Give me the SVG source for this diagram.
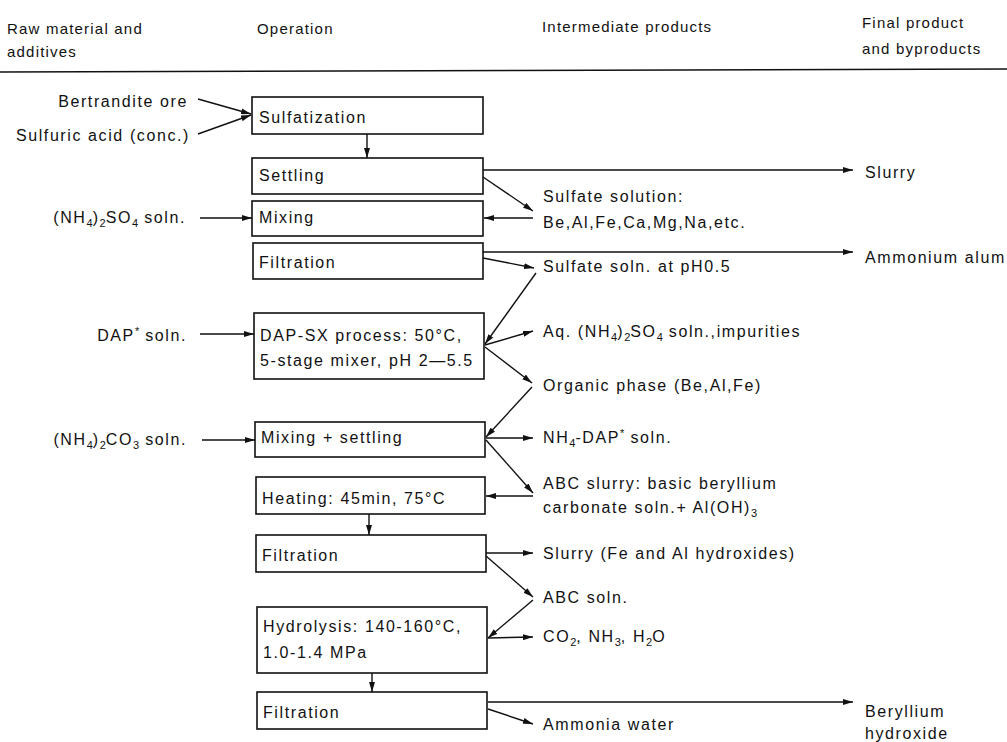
<svg xmlns="http://www.w3.org/2000/svg" width="1007" height="742" viewBox="0 0 1007 742">
<style>
text{font-family:"Liberation Sans",Arial,sans-serif;font-size:16px;letter-spacing:1.6px;fill:#111}
.hd{font-size:15px;letter-spacing:1.2px}
.box{fill:#fff;stroke:#111;stroke-width:1.6}
.c{stroke:#111;stroke-width:1.4;fill:none;marker-end:url(#ah)}
.s{font-size:11px;letter-spacing:0}
</style>
<defs>
<marker id="ah" viewBox="0 0 10 6" refX="10" refY="3" markerWidth="10" markerHeight="6" markerUnits="userSpaceOnUse" orient="auto">
<path d="M0,0 L10,3 L0,6 z" fill="#111"/>
</marker>
</defs>
<g id="header">
<text class="hd" x="7" y="34">Raw material and</text>
<text class="hd" x="7" y="57">additives</text>
<text class="hd" x="257" y="34">Operation</text>
<text class="hd" x="542" y="32">Intermediate products</text>
<text class="hd" x="862" y="28">Final product</text>
<text class="hd" x="862" y="54">and byproducts</text>
<line x1="0" y1="72" x2="1007" y2="69" stroke="#111" stroke-width="1.6"/>
</g>
<g id="inputs">
<text x="188" y="107" text-anchor="end">Bertrandite ore</text>
<text x="190" y="141" text-anchor="end">Sulfuric acid (conc.)</text>
<text x="186" y="223" text-anchor="end">(NH<tspan class="s" dy="4">4</tspan><tspan dy="-4">)</tspan><tspan class="s" dy="4">2</tspan><tspan dy="-4">SO</tspan><tspan class="s" dy="4">4</tspan><tspan dy="-4"> soln.</tspan></text>
<text x="187" y="341" text-anchor="end">DAP<tspan class="s" dy="-6">*</tspan><tspan dy="6"> soln.</tspan></text>
<text x="187" y="445" text-anchor="end">(NH<tspan class="s" dy="4">4</tspan><tspan dy="-4">)</tspan><tspan class="s" dy="4">2</tspan><tspan dy="-4">CO</tspan><tspan class="s" dy="4">3</tspan><tspan dy="-4"> soln.</tspan></text>
</g>
<g id="n1"><rect class="box" x="252" y="97" width="231" height="37"/><text x="259" y="123">Sulfatization</text></g>
<g id="n2"><rect class="box" x="252" y="158" width="231" height="36"/><text x="259" y="181">Settling</text></g>
<g id="n3"><rect class="box" x="252" y="201" width="231" height="35"/><text x="259" y="223">Mixing</text></g>
<g id="n4"><rect class="box" x="253" y="243" width="230" height="36"/><text x="259" y="268">Filtration</text></g>
<g id="n5"><rect class="box" x="254" y="313" width="230" height="66"/><text x="260" y="341">DAP-SX process: 50°C,</text><text x="260" y="366">5-stage mixer, pH 2—5.5</text></g>
<g id="n6"><rect class="box" x="255" y="422" width="230" height="35"/><text x="261" y="443">Mixing + settling</text></g>
<g id="n7"><rect class="box" x="256" y="477" width="229" height="37"/><text x="262" y="504">Heating: 45min, 75°C</text></g>
<g id="n8"><rect class="box" x="256" y="535" width="230" height="37"/><text x="262" y="561">Filtration</text></g>
<g id="n9"><rect class="box" x="257" y="607" width="230" height="66"/><text x="263" y="632">Hydrolysis: 140-160°C,</text><text x="263" y="658">1.0-1.4 MPa</text></g>
<g id="n10"><rect class="box" x="257" y="692" width="230" height="37"/><text x="263" y="718">Filtration</text></g>
<g id="intermediates">
<text x="543" y="202">Sulfate solution:</text>
<text x="543" y="228">Be,Al,Fe,Ca,Mg,Na,etc.</text>
<text x="543" y="272">Sulfate soln. at pH0.5</text>
<text x="543" y="337">Aq. (NH<tspan class="s" dy="4">4</tspan><tspan dy="-4">)</tspan><tspan class="s" dy="4">2</tspan><tspan dy="-4">SO</tspan><tspan class="s" dy="4">4</tspan><tspan dy="-4"> soln.,impurities</tspan></text>
<text x="543" y="391">Organic phase (Be,Al,Fe)</text>
<text x="543" y="443">NH<tspan class="s" dy="4">4</tspan><tspan dy="-4">-DAP</tspan><tspan class="s" dy="-6">*</tspan><tspan dy="6"> soln.</tspan></text>
<text x="543" y="489">ABC slurry: basic beryllium</text>
<text x="543" y="513">carbonate soln.+ Al(OH)<tspan class="s" dy="4">3</tspan></text>
<text x="543" y="559">Slurry (Fe and Al hydroxides)</text>
<text x="543" y="603">ABC soln.</text>
<text x="543" y="642">CO<tspan class="s" dy="4">2</tspan><tspan dy="-4">, NH</tspan><tspan class="s" dy="4">3</tspan><tspan dy="-4">, H</tspan><tspan class="s" dy="4">2</tspan><tspan dy="-4">O</tspan></text>
<text x="543" y="730">Ammonia water</text>
</g>
<g id="finals">
<text x="865" y="178">Slurry</text>
<text x="865" y="263">Ammonium alum</text>
<text x="865" y="717">Beryllium</text>
<text x="865" y="739">hydroxide</text>
</g>
<g id="connectors">
<line class="c" x1="198" y1="99" x2="251" y2="114"/>
<line class="c" x1="198" y1="134" x2="251" y2="115"/>
<line class="c" x1="200" y1="218" x2="252" y2="218"/>
<line class="c" x1="200" y1="334" x2="254" y2="334"/>
<line class="c" x1="202" y1="440" x2="255" y2="440"/>
<line class="c" x1="367" y1="134" x2="367" y2="158"/>
<line class="c" x1="369" y1="514" x2="369" y2="535"/>
<line class="c" x1="372" y1="673" x2="372" y2="692"/>
<line class="c" x1="483" y1="170" x2="853" y2="170"/>
<line class="c" x1="483" y1="177" x2="533" y2="211"/>
<line class="c" x1="533" y1="218" x2="484" y2="218"/>
<line class="c" x1="483" y1="252" x2="853" y2="252"/>
<line class="c" x1="483" y1="258" x2="534" y2="268"/>
<line class="c" x1="536" y1="273" x2="485" y2="344"/>
<line class="c" x1="485" y1="345" x2="533" y2="331"/>
<line class="c" x1="485" y1="347" x2="532" y2="383"/>
<line class="c" x1="532" y1="387" x2="486" y2="437"/>
<line class="c" x1="486" y1="438" x2="533" y2="438"/>
<line class="c" x1="486" y1="440" x2="533" y2="493"/>
<line class="c" x1="533" y1="496" x2="486" y2="496"/>
<line class="c" x1="486" y1="553" x2="533" y2="553"/>
<line class="c" x1="486" y1="556" x2="533" y2="597"/>
<line class="c" x1="533" y1="600" x2="488" y2="638"/>
<line class="c" x1="488" y1="638" x2="533" y2="637"/>
<line class="c" x1="488" y1="702" x2="853" y2="702"/>
<line class="c" x1="488" y1="709" x2="533" y2="724"/>
</g>
</svg>
